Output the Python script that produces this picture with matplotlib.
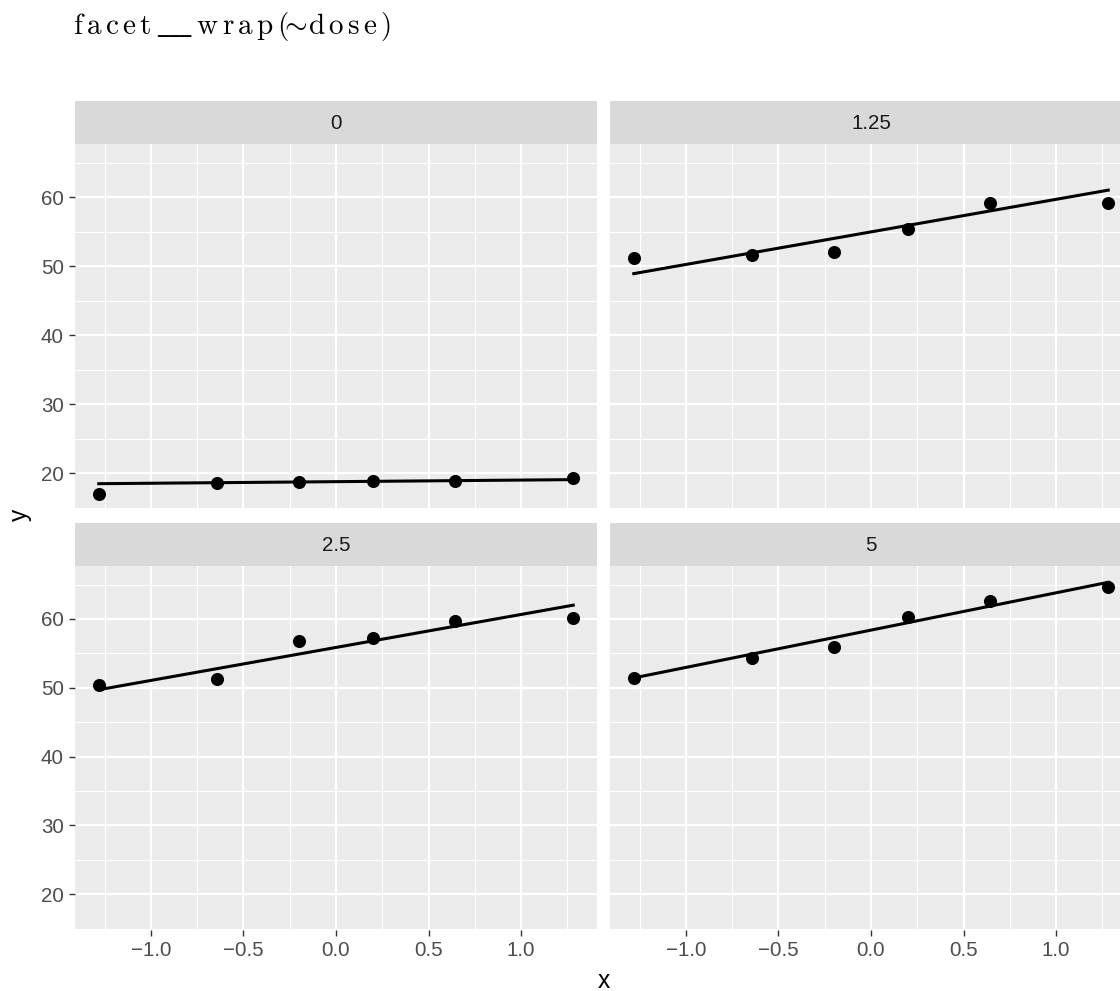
import numpy as np
import matplotlib
matplotlib.use("Agg")
import matplotlib.pyplot as plt
from matplotlib.ticker import MultipleLocator

plt.rcParams['font.family'] = ['Liberation Sans', 'DejaVu Sans']
plt.rcParams['mathtext.fontset'] = 'cm'

# theoretical normal quantiles (x) and sample values per dose
theo = [-1.2816, -0.6433, -0.2019, 0.2019, 0.6433, 1.2816]
doses = ['0', '1.25', '2.5', '5']
y_dose0 = [17.04, 18.55, 18.78, 18.88, 18.93, 19.32]
y_dose125 = [51.25, 51.68, 52.07, 55.31, 59.09, 59.19]
y_dose25 = [50.42, 51.24, 56.80, 57.29, 59.70, 60.19]
y_dose5 = [51.48, 54.34, 55.88, 60.33, 62.61, 64.59]
samples = [y_dose0, y_dose125, y_dose25, y_dose5]

x_ticks = [-1.0, -0.5, 0.0, 0.5, 1.0]
y_ticks = [20, 30, 40, 50, 60]


def qq_line(y):
    # same rule as stat_qq_line: line through the quartiles
    q1, q3 = np.quantile(y, [0.25, 0.75])
    z = 0.6744898
    slope = (q3 - q1) / (2 * z)
    inter = q1 + slope * z
    xs = np.array([theo[0], theo[-1]])
    return xs, inter + slope * xs


W, H = 1120, 991
fig = plt.figure(figsize=(W / 100, H / 100), dpi=100)

def px_axes(x0, y0, x1, y1):
    return fig.add_axes([x0 / W, 1 - y1 / H, (x1 - x0) / W, (y1 - y0) / H])

cols = [(75, 597), (610, 1132)]
rows = [(144, 509), (566, 930)]
strip_h = 43

for i, (dose, y) in enumerate(zip(doses, samples)):
    r, c = divmod(i, 2)
    x0, x1 = cols[c]
    y0, y1 = rows[r]
    ax = px_axes(x0, y0, x1, y1)
    ax.set_facecolor('#EBEBEB')
    for s in ax.spines.values():
        s.set_visible(False)
    ax.set_xlim(-1.41, 1.41)
    ax.set_ylim(14.8, 67.7)
    ax.set_xticks(x_ticks)
    ax.set_yticks(y_ticks)
    ax.xaxis.set_minor_locator(MultipleLocator(0.5, offset=0.25))
    ax.yaxis.set_minor_locator(MultipleLocator(10, offset=5))
    ax.grid(which='major', color='white', lw=1.6)
    ax.grid(which='minor', color='white', lw=0.8)
    ax.set_axisbelow(True)
    ax.tick_params(which='minor', length=0)
    ax.tick_params(which='major', length=4.5, width=1.0, color='#333333',
                   labelsize=14.8, labelcolor='#4D4D4D', pad=3.5)
    if r == 0:
        ax.tick_params(axis='x', which='major', length=0, labelbottom=False)
    if c == 1:
        ax.tick_params(axis='y', which='major', length=0, labelleft=False)

    ax.plot(theo, y, 'o', color='black', ms=8.4, zorder=3)
    lx, ly = qq_line(y)
    ax.plot(lx, ly, color='black', lw=2.2, zorder=4)

    sax = px_axes(x0, y0 - strip_h, x1, y0)
    sax.set_facecolor('#D9D9D9')
    sax.set_xticks([])
    sax.set_yticks([])
    for s in sax.spines.values():
        s.set_visible(False)
    sax.text(0.5, 0.47, dose, ha='center', va='center', fontsize=14.8,
             color='#1A1A1A', transform=sax.transAxes)

fig.text(603.5 / W, 1 - 981 / H, 'x', ha='center', va='center', fontsize=17.7)
fig.text(20 / W, 1 - 515 / H, 'y', ha='center', va='center', fontsize=17.7,
         rotation=90)

fig.text(73 / W, 1 - 34 / H,
         r'$\mathrm{f\,a\,c\,e\,t\,\_\!\_\!\_\,w\,r\,a\,p\,(\!\!{\sim}\!\!\,d\,o\,s\,e\,)}$',
         ha='left', va='baseline', fontsize=21)

fig.savefig('out.png', dpi=100)
